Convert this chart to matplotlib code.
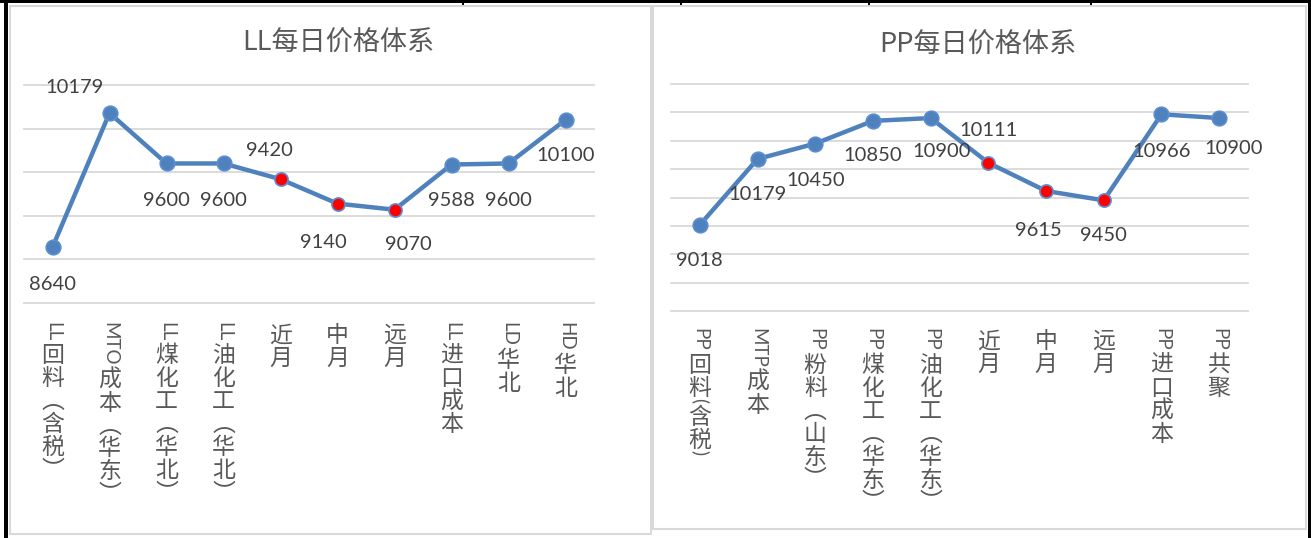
import matplotlib
matplotlib.use("Agg")
import matplotlib.pyplot as plt
from matplotlib.patches import Rectangle

# ---------------- data ----------------
ll_title = "LL每日价格体系"
ll_categories = ["LL回料（含税）", "MTO成本（华东）", "LL煤化工（华北）", "LL油化工（华北）",
                 "近月", "中月", "远月", "LL进口成本", "LD华北", "HD华北"]
ll_values = [8640, 10179, 9600, 9600, 9420, 9140, 9070, 9588, 9600, 10100]
ll_ylim = (8000, 10500)

pp_title = "PP每日价格体系"
pp_categories = ["PP回料(含税)", "MTP成本", "PP粉料（山东）", "PP煤化工（华东）", "PP油化工（华东）",
                 "近月", "中月", "远月", "PP进口成本", "PP共聚"]
pp_values = [9018, 10179, 10450, 10850, 10900, 10111, 9615, 9450, 10966, 10900]
pp_ylim = (7500, 11500)

futures = ("近月", "中月", "远月")

# label offsets from each point, in pixels (dx right, dy down)
ll_label_offsets = [(0, 37), (-35, -25), (0, 37), (0, 37), (-11, -29),
                    (-14, 39), (14, 35), (0, 36), (0, 37), (0, 36)]
pp_label_offsets = [(0, 36), (0, 36), (0, 37), (0, 35), (11, 33),
                    (0, -32), (-8, 40), (0, 35), (0, 37), (14, 30)]

# ---------------- style ----------------
W, H, DPI = 1311, 538, 100
BLUE = "#4f81bd"
BLUE_EDGE = "#5b8fd3"
RED = "#ff0000"
GRID = "#d9d9d9"
TXT = "#404040"
AXTXT = "#595959"
CJK = ["Noto Sans CJK SC", "DejaVu Sans"]
LAT = ["Lato", "DejaVu Sans"]

fig = plt.figure(figsize=(W / DPI, H / DPI), dpi=DPI)
fig.patch.set_facecolor("white")
renderer = fig.canvas.get_renderer()
PX2PT = 72.0 / DPI


def fig_rect(x0, y0, x1, y1, **kw):
    """Rectangle given in pixel coordinates measured from the top-left corner."""
    r = Rectangle((x0 / W, 1 - y1 / H), (x1 - x0) / W, (y1 - y0) / H,
                  transform=fig.transFigure, **kw)
    fig.add_artist(r)
    return r


def add_axes_px(x0, y0, x1, y1):
    return fig.add_axes([x0 / W, 1 - y1 / H, (x1 - x0) / W, (y1 - y0) / H])


def is_cjk(ch):
    return ord(ch) > 0x2E80


VERT_FORMS = {"（": "︵", "）": "︶"}


def text_width(s, size, family):
    t = fig.text(0, 0, s, fontsize=size, family=family)
    w = t.get_window_extent(renderer).width
    t.remove()
    return w


def vertical_label(ax, x, label, top_px, cjk_size=16.5, lat_size=13.5):
    """Stack CJK characters upright and run Latin text rotated downward."""
    s_px = cjk_size / PX2PT
    y = top_px
    runs = []
    for ch in label:
        kind = "cjk" if (is_cjk(ch) or ch in VERT_FORMS) else "lat"
        if runs and runs[-1][0] == kind and kind == "lat":
            runs[-1][1] += ch
        else:
            runs.append([kind, ch])
    trans = ax.get_xaxis_transform()
    for kind, s in runs:
        if kind == "cjk":
            ch = VERT_FORMS.get(s, s)
            ax.annotate(ch, xy=(x, 0), xycoords=trans,
                        xytext=(0, -(y + 0.88 * s_px) * PX2PT), textcoords="offset points",
                        ha="center", va="baseline", fontsize=cjk_size, family=CJK,
                        color=AXTXT, annotation_clip=False)
            y += s_px
        else:
            w = text_width(s, lat_size, LAT)
            ax.annotate(s, xy=(x, 0), xycoords=trans,
                        xytext=(0, -y * PX2PT), textcoords="offset points",
                        rotation=270, ha="center", va="top", fontsize=lat_size,
                        family=LAT, color=AXTXT, annotation_clip=False)
            y += w + 1


def draw_panel(box, title, title_xy, categories, values, ylim, offsets, label_top):
    ax = add_axes_px(*box)
    ax.set_facecolor("none")
    x = list(range(len(categories)))
    ax.set_xlim(-0.5, len(categories) - 0.5)
    ax.set_ylim(*ylim)
    ax.set_yticks(range(ylim[0], ylim[1] + 1, 500))
    ax.set_yticklabels([])
    ax.set_xticks([])
    ax.tick_params(left=False, bottom=False)
    for sp in ax.spines.values():
        sp.set_visible(False)
    ax.grid(axis="y", color=GRID, lw=1.3)
    for gl in ax.get_ygridlines():
        gl.set_clip_on(False)
    ax.set_axisbelow(True)

    ax.plot(x, values, color=BLUE, lw=3.2, solid_capstyle="round", zorder=3, clip_on=False)
    colors = [RED if c in futures else BLUE for c in categories]
    sizes = [9.5 if c in futures else 10.5 for c in categories]
    for xi, v, c, ms in zip(x, values, colors, sizes):
        ax.plot([xi], [v], "o", ms=ms, mfc=c, mec=BLUE_EDGE, mew=1.2, zorder=4, clip_on=False)

    for xi, v, (dx, dy) in zip(x, values, offsets):
        ax.annotate(f"{v}", xy=(xi, v), xytext=(dx * PX2PT, -dy * PX2PT),
                    textcoords="offset points", ha="center", va="center",
                    fontsize=14.5, family=LAT, color=TXT, annotation_clip=False)

    for xi, c in zip(x, categories):
        vertical_label(ax, xi, c, label_top)

    fig.text(title_xy[0] / W, 1 - title_xy[1] / H, title, ha="center", va="center",
             fontsize=19.5, family=CJK, color=AXTXT)
    return ax


# outer frame lines
fig_rect(0, 0, W, 2.5, facecolor="black", edgecolor="none")
fig_rect(4, 0, 8, H, facecolor="black", edgecolor="none")
fig_rect(1308, 0, W, H, facecolor="black", edgecolor="none")
for tx in (462, 680, 868, 1090):
    fig_rect(tx, 0, tx + 2, 5, facecolor="black", edgecolor="none")

# chart area borders
fig_rect(10, 6, 651, 534, fill=False, edgecolor=GRID, lw=1.5)
fig_rect(653, 6, 1306, 529, fill=False, edgecolor=GRID, lw=1.5)

draw_panel((24, 85, 594, 303), ll_title, (338, 43), ll_categories, ll_values,
           ll_ylim, ll_label_offsets, 19)
draw_panel((671, 84, 1248, 311), pp_title, (978, 45), pp_categories, pp_values,
           pp_ylim, pp_label_offsets, 17)

fig.savefig("out.png", dpi=DPI, facecolor="white")
